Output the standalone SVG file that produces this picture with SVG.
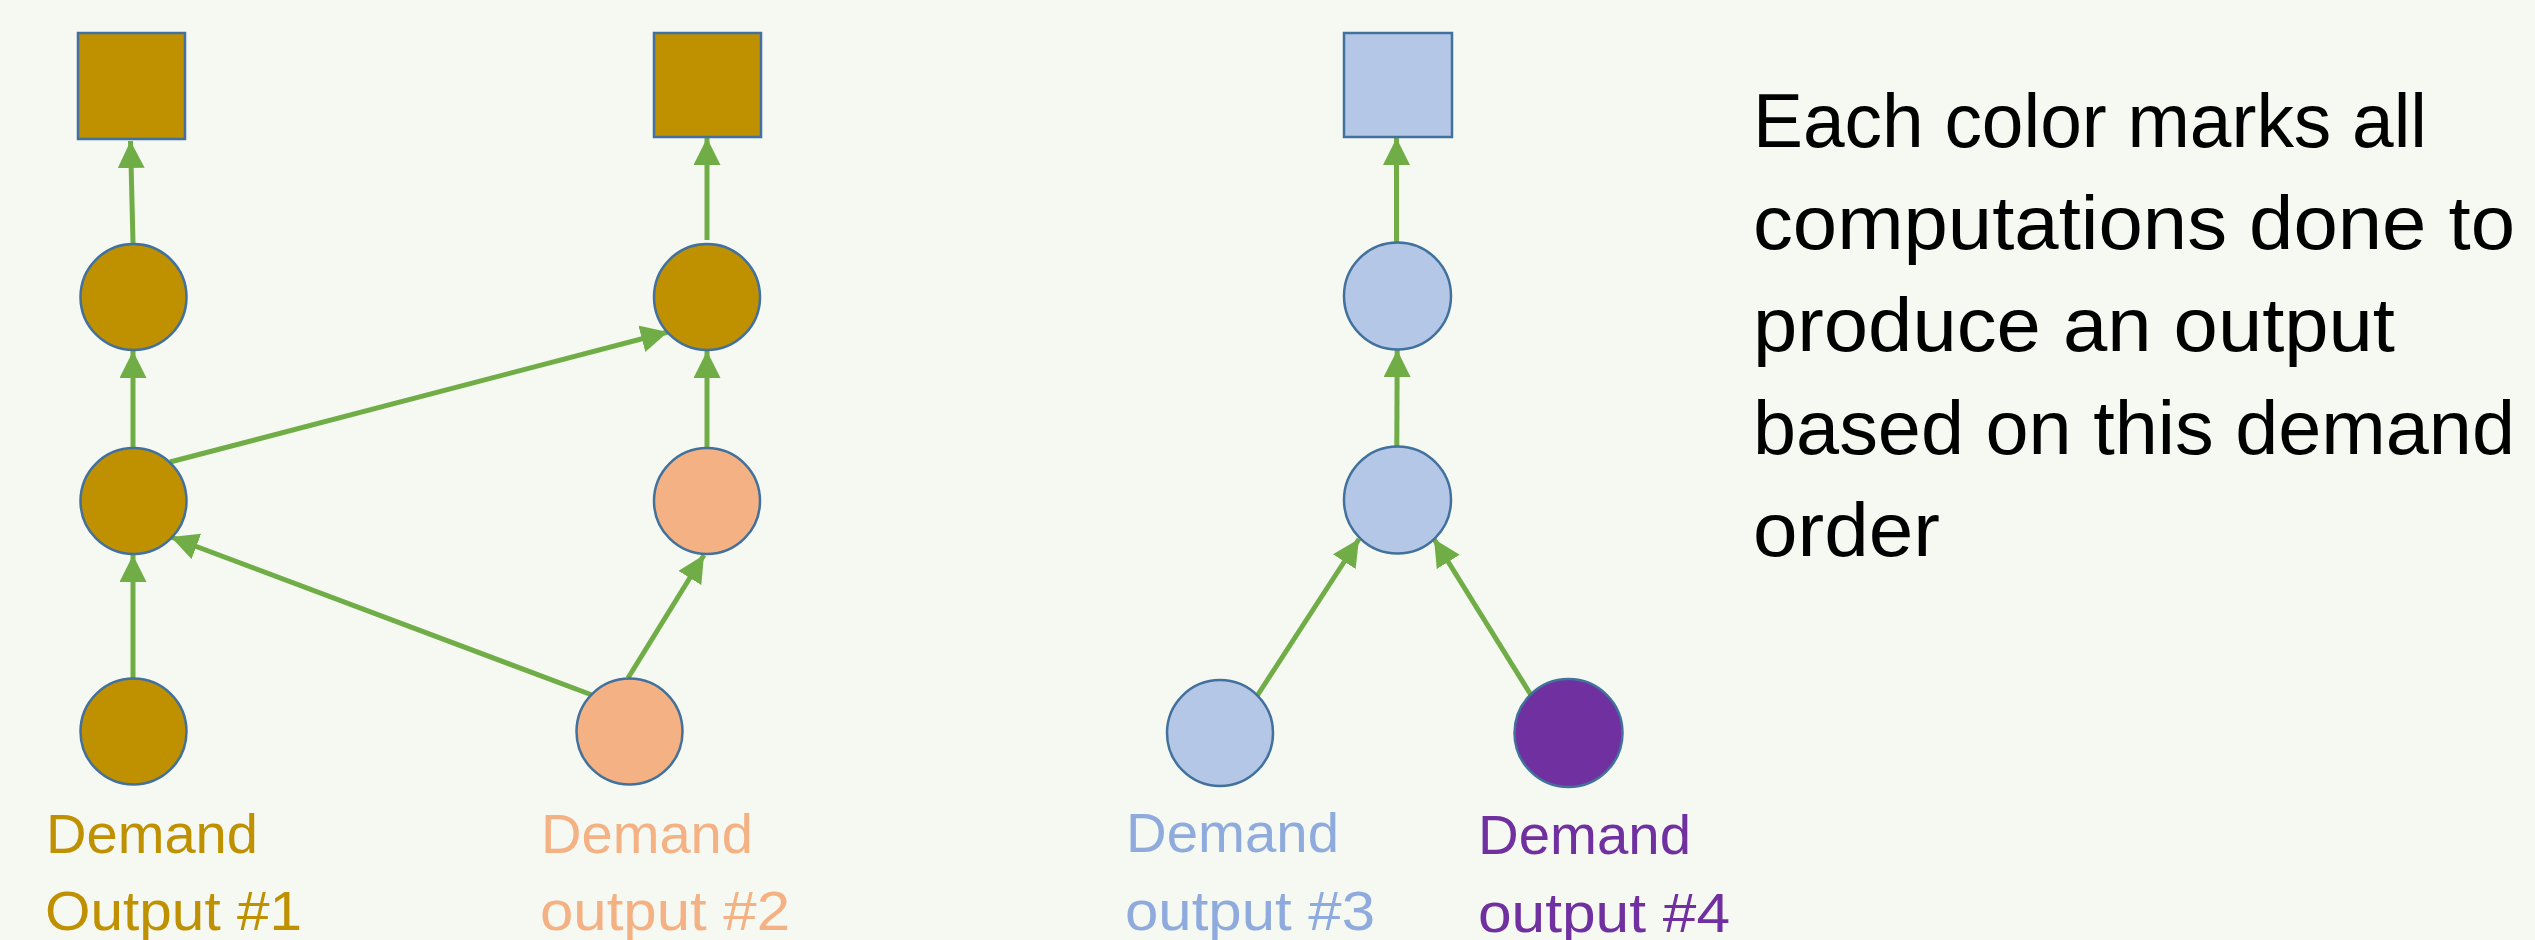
<svg xmlns="http://www.w3.org/2000/svg" width="2535" height="940" viewBox="0 0 2535 940">
<style>
.bg{fill:#F5F9F2}
.node{stroke:#41719C;stroke-width:2.5}
.gold{fill:#BF9000}
.peach{fill:#F4B183}
.blue{fill:#B4C7E7}
.purple{fill:#7030A0}
.edge{stroke:#70AD47;stroke-width:5;fill:none;marker-end:url(#ah)}
.lbl{font-family:"Liberation Sans",Arial,sans-serif;font-size:56px}
.note{font-family:"Liberation Sans",Arial,sans-serif;font-size:76px;fill:#000}
</style>
<defs>
<marker id="ah" markerUnits="userSpaceOnUse" markerWidth="28" markerHeight="28" refX="27" refY="13.5" orient="auto">
<path d="M0,0 L27,13.5 L0,27 z" fill="#70AD47"/>
</marker>
</defs>
<rect class="bg" x="0" y="0" width="2535" height="940"/>

<g id="connectors">
<line class="edge" x1="133" y1="243" x2="130.5" y2="141"/>
<line class="edge" x1="133" y1="447" x2="133" y2="351"/>
<line class="edge" x1="170" y1="462" x2="668" y2="332"/>
<line class="edge" x1="707" y1="240" x2="707" y2="138"/>
<line class="edge" x1="707" y1="447" x2="707" y2="351"/>
<line class="edge" x1="133" y1="678" x2="133" y2="555"/>
<line class="edge" x1="592" y1="695" x2="171" y2="537"/>
<line class="edge" x1="628" y1="678" x2="704" y2="555"/>
<line class="edge" x1="1396.5" y1="242" x2="1396.5" y2="138"/>
<line class="edge" x1="1396.8" y1="447" x2="1397.2" y2="350"/>
<line class="edge" x1="1257" y1="696" x2="1359" y2="539"/>
<line class="edge" x1="1531" y1="695" x2="1434" y2="539"/>
</g>

<g id="out1"><rect class="node gold" x="78" y="33" width="107" height="106"/></g>
<g id="out2"><rect class="node gold" x="654" y="33" width="107" height="104"/></g>
<g id="out3"><rect class="node blue" x="1344" y="33" width="108" height="104"/></g>

<g id="n1a"><circle class="node gold" cx="133.5" cy="297" r="53"/></g>
<g id="n1b"><circle class="node gold" cx="133.5" cy="501" r="53"/></g>
<g id="n1c"><circle class="node gold" cx="133.5" cy="731.5" r="53"/></g>
<g id="n2a"><circle class="node gold" cx="707" cy="297" r="53"/></g>
<g id="n2b"><circle class="node peach" cx="707" cy="501" r="53"/></g>
<g id="n2c"><circle class="node peach" cx="629.5" cy="731.5" r="53"/></g>
<g id="n3a"><circle class="node blue" cx="1397.5" cy="296" r="53.5"/></g>
<g id="n3b"><circle class="node blue" cx="1397.5" cy="500" r="53.5"/></g>
<g id="n3c"><circle class="node blue" cx="1220" cy="733" r="53"/></g>
<g id="n4c"><circle class="node purple" cx="1568.5" cy="733" r="54"/></g>

<g id="label1" class="lbl" fill="#BF9000">
<text x="46" y="853" textLength="212" lengthAdjust="spacingAndGlyphs">Demand</text>
<text x="45" y="930" textLength="257" lengthAdjust="spacingAndGlyphs">Output #1</text>
</g>
<g id="label2" class="lbl" fill="#F4B183">
<text x="541" y="853" textLength="212" lengthAdjust="spacingAndGlyphs">Demand</text>
<text x="540" y="930" textLength="250" lengthAdjust="spacingAndGlyphs">output #2</text>
</g>
<g id="label3" class="lbl" fill="#8FAADC">
<text x="1126" y="852" textLength="213" lengthAdjust="spacingAndGlyphs">Demand</text>
<text x="1125" y="930" textLength="250" lengthAdjust="spacingAndGlyphs">output #3</text>
</g>
<g id="label4" class="lbl" fill="#7030A0">
<text x="1478" y="854" textLength="213" lengthAdjust="spacingAndGlyphs">Demand</text>
<text x="1478" y="932" textLength="252" lengthAdjust="spacingAndGlyphs">output #4</text>
</g>

<g id="note" class="note">
<text x="1753" y="147" textLength="674" lengthAdjust="spacingAndGlyphs">Each color marks all</text>
<text x="1753" y="249" textLength="762" lengthAdjust="spacingAndGlyphs">computations done to</text>
<text x="1753" y="351" textLength="642" lengthAdjust="spacingAndGlyphs">produce an output</text>
<text x="1753" y="454" textLength="762" lengthAdjust="spacingAndGlyphs">based on this demand</text>
<text x="1753" y="556" textLength="187" lengthAdjust="spacingAndGlyphs">order</text>
</g>
</svg>
